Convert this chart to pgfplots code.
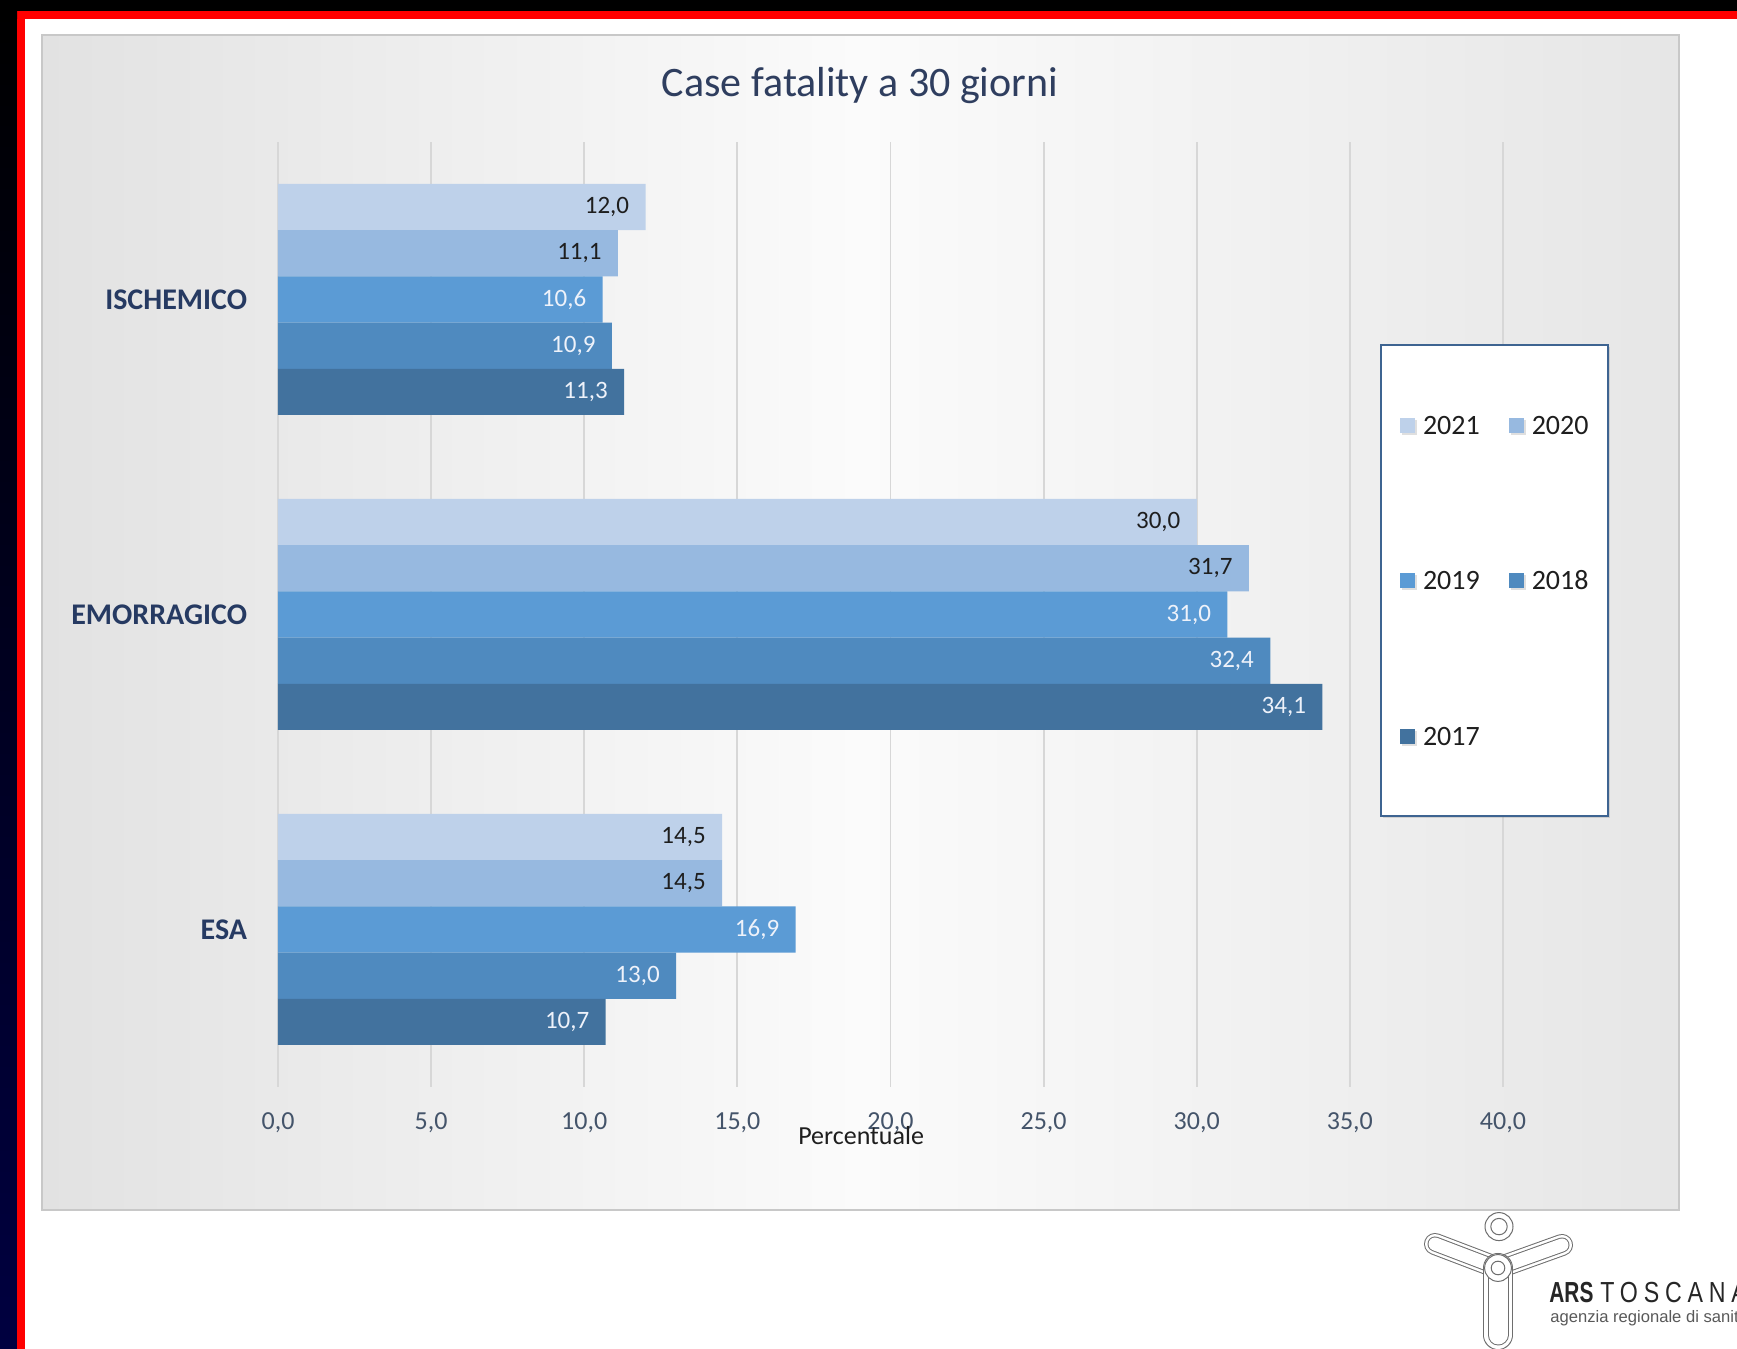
\documentclass[border=0pt]{standalone}
\usepackage{fontspec}
\setmainfont{Carlito}
\newfontfamily\logofont{Liberation Sans}
\usepackage{pgfplots}
\pgfplotsset{compat=1.18}
\usetikzlibrary{shadows}

% series colours (2021 lightest ... 2017 darkest)
\definecolor{c21}{RGB}{190,209,234}
\definecolor{c20}{RGB}{151,185,224}
\definecolor{c19}{RGB}{91,155,213}
\definecolor{c18}{RGB}{79,138,191}
\definecolor{c17}{RGB}{66,114,158}
% text and frame colours
\definecolor{titlecol}{RGB}{47,62,95}
\definecolor{catcol}{RGB}{38,58,98}
\definecolor{tickcol}{RGB}{68,84,106}
\definecolor{gridcol}{RGB}{215,215,215}
\definecolor{panL}{RGB}{226,226,226}
\definecolor{panM}{RGB}{251,251,251}
\definecolor{panR}{RGB}{230,230,230}
\definecolor{panEdge}{RGB}{200,200,200}
\definecolor{legEdge}{RGB}{62,100,145}
\definecolor{darklab}{RGB}{30,30,30}
\definecolor{lightlab}{RGB}{238,242,250}
\definecolor{navyband}{RGB}{0,0,64}
\definecolor{logogray}{RGB}{110,110,110}

\pgfplotsset{
  yearbar/.style={fill=#1, draw=none,
    legend image code/.code={\fill[#1] (0pt,-3.75pt) rectangle (7.5pt,3.75pt);}},
}

\begin{document}
\begin{tikzpicture}
\useasboundingbox (0,0) rectangle (868.5pt,674.5pt);
\clip (0,0) rectangle (868.5pt,674.5pt);
\fill[white] (0,0) rectangle (868.5pt,674.5pt);

% chart panel
\shade[left color=panL, right color=panR, middle color=panM]
  (21pt,69.5pt) rectangle (839.5pt,657pt);
\draw[panEdge, line width=0.8pt] (21pt,69.5pt) rectangle (839.5pt,657pt);

\node[anchor=base, font=\fontsize{21}{25}\selectfont, text=titlecol]
  at (430pt,626pt) {Case fatality a 30 giorni};

\begin{axis}[
  at={(139pt,131pt)}, anchor=south west,
  scale only axis, width=612.5pt, height=472.5pt,
  xbar, bar width=23.1pt,
  xmin=0, xmax=40, ymin=-0.5, ymax=2.5,
  xtick={0,5,...,40}, ytick={0,1,2},
  yticklabels={ESA,EMORRAGICO,ISCHEMICO},
  xmajorgrids, major grid style={draw=gridcol, line width=0.9pt},
  axis line style={draw=none}, tick style={draw=none},
  xticklabel style={anchor=base, yshift=-21.5pt, text=tickcol,
    font=\fontsize{13}{15}\selectfont},
  yticklabel style={anchor=east, inner sep=0pt, xshift=-11pt, text=catcol,
    font=\fontsize{15}{18}\selectfont\bfseries},
  xlabel={Percentuale},
  xlabel style={at={(axis description cs:0.476,0)}, anchor=base, yshift=-28.7pt,
    font=\fontsize{13}{15}\selectfont, text=darklab},
  point meta=x,
  nodes near coords={\pgfmathprintnumber{\pgfplotspointmeta}},
  nodes near coords style={anchor=east, inner sep=0pt, xshift=-8pt,
    font=\fontsize{12.5}{15}\selectfont},
  legend style={at={(0.8996,0.7862)}, anchor=north west,
    fill=white, draw=legEdge, line width=1pt,
    drop shadow={shadow xshift=1.2pt, shadow yshift=-1.2pt, opacity=0.25},
    font=\fontsize{14}{16}\selectfont, text=darklab,
    inner xsep=9.5pt, inner ysep=35.5pt, row sep=68.75pt,
    nodes={inner sep=0pt, text height=9pt, text depth=0pt},
    /tikz/every odd column/.append style={column sep=4pt},
    /tikz/every even column/.append style={column sep=14.5pt}},
  legend cell align=left, legend columns=2,
  /pgf/number format/fixed, /pgf/number format/fixed zerofill,
  /pgf/number format/precision=1, /pgf/number format/use comma,
  /pgf/number format/assume math mode=true,
]
\addplot[yearbar=c21, bar shift=46.2pt,
  every node near coord/.append style={text=darklab}]
  coordinates {(12.0,2) (30.0,1) (14.5,0)};
\addplot[yearbar=c20, bar shift=23.1pt,
  every node near coord/.append style={text=darklab}]
  coordinates {(11.1,2) (31.7,1) (14.5,0)};
\addplot[yearbar=c19, bar shift=0pt,
  every node near coord/.append style={text=lightlab}]
  coordinates {(10.6,2) (31.0,1) (16.9,0)};
\addplot[yearbar=c18, bar shift=-23.1pt,
  every node near coord/.append style={text=lightlab}]
  coordinates {(10.9,2) (32.4,1) (13.0,0)};
\addplot[yearbar=c17, bar shift=-46.2pt,
  every node near coord/.append style={text=lightlab}]
  coordinates {(11.3,2) (34.1,1) (10.7,0)};
\legend{2021,2020,2019,2018,2017}
\end{axis}

% slide frame
\fill[black] (0,669pt) rectangle (868.5pt,674.5pt);
\fill[red] (8.5pt,665pt) rectangle (868.5pt,669pt);
\shade[top color=black, bottom color=navyband] (0,0) rectangle (8.5pt,669pt);
\fill[red] (8.5pt,0) rectangle (12.5pt,665pt);

% ARS Toscana logo: outlined arms, body and rings
\foreach \w/\c in {11pt/logogray,10pt/white,7.5pt/logogray,6.5pt/white}{
  \draw[line cap=round, line width=\w, \c] (717.5pt,52.5pt) -- (749pt,40.5pt);
  \draw[line cap=round, line width=\w, \c] (781pt,52pt) -- (749pt,40.5pt);
}
\foreach \w/\c in {15pt/logogray,14pt/white,10.5pt/logogray,9.5pt/white}{
  \draw[line cap=round, line width=\w, \c] (749pt,40.5pt) -- (749pt,7pt);
}
\draw[logogray, line width=0.5pt, fill=white] (749pt,40.5pt) circle (6.7pt);
\draw[logogray, line width=0.5pt] (749pt,40.5pt) circle (3.4pt);
\draw[logogray, line width=0.5pt, fill=white] (749.5pt,61.2pt) circle (7pt);
\draw[logogray, line width=0.5pt] (749.5pt,61.2pt) circle (4.1pt);
\node[anchor=base west, inner sep=0pt,
  font=\logofont\addfontfeature{FakeStretch=0.72}\fontsize{14.5}{16}\selectfont\bfseries,
  text=black!85] at (774.5pt,23pt) {ARS};
\node[anchor=base west, inner sep=0pt,
  font=\logofont\addfontfeature{FakeStretch=0.8,LetterSpace=20}\fontsize{14.5}{16}\selectfont,
  text=black!85] at (800pt,23pt) {TOSCANA};
\node[anchor=base west, inner sep=0pt, font=\logofont\fontsize{8.3}{9}\selectfont,
  text=black!65] at (775pt,13pt) {agenzia regionale di sanità};
\end{tikzpicture}
\end{document}
